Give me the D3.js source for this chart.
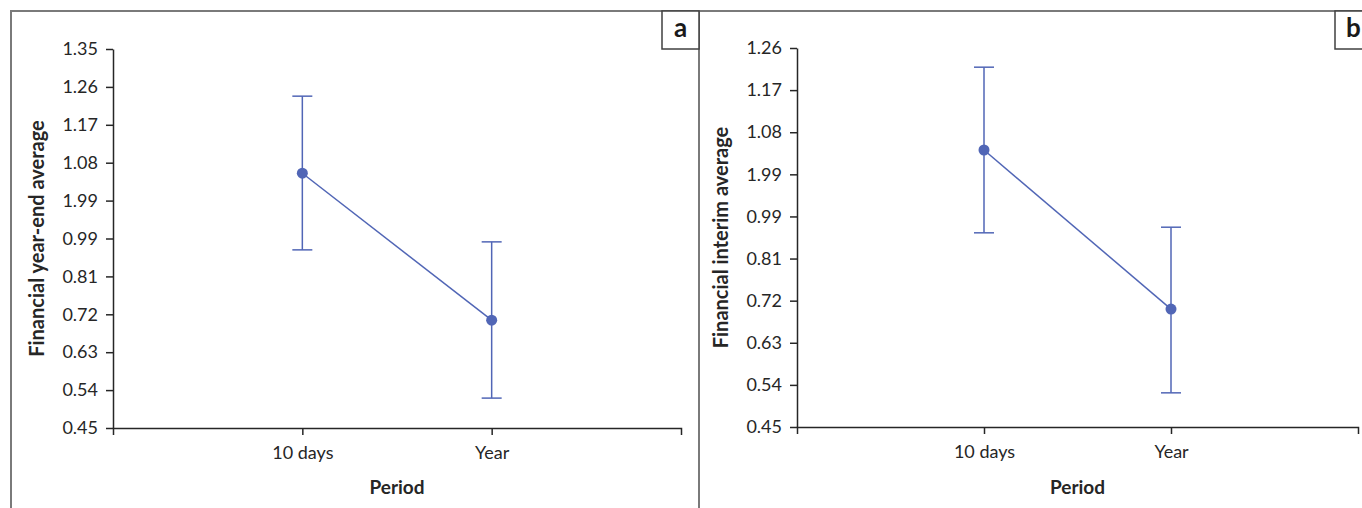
<!DOCTYPE html>
<html>
<head>
<meta charset="utf-8">
<script src="https://cdn.jsdelivr.net/npm/d3@7"></script>
<style>
  html, body { margin: 0; padding: 0; background: #fff; }
  svg { display: block; font-family: Lato, "Open Sans", sans-serif; }
  .tick text { fill: #262626; }
</style>
</head>
<body>
<svg id="chart" width="1362" height="508"></svg>
<script>
const periods = ["10 days", "Year"];

// panel a: financial year-end
const yearEndMean = [1.055, 0.706];
const yearEndLow = [0.873, 0.521];
const yearEndHigh = [1.238, 0.892];
const yearEndTicks = [0.45, 0.54, 0.63, 0.72, 0.81, 0.90, 0.99, 1.08, 1.17, 1.26, 1.35];
const yearEndTickLabels = ["0.45", "0.54", "0.63", "0.72", "0.81", "0.99", "1.99", "1.08", "1.17", "1.26", "1.35"];

// panel b: financial interim
const interimMean = [1.042, 0.702];
const interimLow = [0.865, 0.523];
const interimHigh = [1.219, 0.877];
const interimTicks = [0.45, 0.54, 0.63, 0.72, 0.81, 0.90, 0.99, 1.08, 1.17, 1.26];
const interimTickLabels = ["0.45", "0.54", "0.63", "0.72", "0.81", "0.99", "1.99", "1.08", "1.17", "1.26"];

const BLUE = "#5166b6";
const AXIS = "#262626";
const FRAME = "#7a7a7a";

const svg = d3.select("#chart");

// outer frame
const frame = svg.append("g").attr("fill", "none").attr("stroke", FRAME).attr("stroke-width", 2);
frame.append("path").attr("d", "M11,508V11H1362");
frame.append("path").attr("d", "M699,11V508");

function drawPanel({ left, right, top, bottom, mean, low, high, ticks, tickLabels, title, tag, tagX }) {
  const g = svg.append("g");
  const x = d3.scalePoint().domain(periods).range([left, right]).padding(1);
  const y = d3.scaleLinear().domain([ticks[0], ticks[ticks.length - 1]]).range([bottom, top]);

  const yAxis = d3.axisLeft(y).tickValues(ticks).tickSize(7).tickSizeOuter(0).tickPadding(8)
    .tickFormat((d, i) => tickLabels[i]);
  const ya = g.append("g").attr("transform", `translate(${left},0)`).call(yAxis);
  const xAxis = d3.axisBottom(x).tickSize(7).tickSizeOuter(7).tickPadding(11);
  const xa = g.append("g").attr("transform", `translate(0,${bottom})`).call(xAxis);
  [ya, xa].forEach((a) => {
    a.selectAll("path, line").attr("stroke", AXIS).attr("stroke-width", 1.5);
    a.selectAll("text").attr("font-size", 18).attr("font-family", "Lato, sans-serif");
  });

  const rows = periods.map((p, i) => ({ p, m: mean[i], lo: low[i], hi: high[i] }));

  g.append("path")
    .datum(rows)
    .attr("fill", "none")
    .attr("stroke", BLUE)
    .attr("stroke-width", 1.5)
    .attr("d", d3.line().x((d) => x(d.p)).y((d) => y(d.m)));

  const eb = g.append("g").attr("stroke", BLUE).attr("stroke-width", 1.5);
  eb.selectAll("line.bar").data(rows).join("line").attr("class", "bar")
    .attr("x1", (d) => x(d.p)).attr("x2", (d) => x(d.p))
    .attr("y1", (d) => y(d.lo)).attr("y2", (d) => y(d.hi));
  eb.selectAll("line.capHi").data(rows).join("line").attr("class", "capHi")
    .attr("x1", (d) => x(d.p) - 10).attr("x2", (d) => x(d.p) + 10)
    .attr("y1", (d) => y(d.hi)).attr("y2", (d) => y(d.hi));
  eb.selectAll("line.capLo").data(rows).join("line").attr("class", "capLo")
    .attr("x1", (d) => x(d.p) - 10).attr("x2", (d) => x(d.p) + 10)
    .attr("y1", (d) => y(d.lo)).attr("y2", (d) => y(d.lo));

  g.selectAll("circle").data(rows).join("circle")
    .attr("cx", (d) => x(d.p)).attr("cy", (d) => y(d.m)).attr("r", 5.5)
    .attr("fill", BLUE);

  g.append("text")
    .attr("x", (left + right) / 2).attr("y", 494)
    .attr("text-anchor", "middle").attr("font-weight", 700).attr("font-size", 19)
    .attr("fill", AXIS).text("Period");

  g.append("text")
    .attr("transform", `translate(${left - 69},${(top + bottom) / 2}) rotate(-90)`)
    .attr("text-anchor", "middle").attr("font-weight", 700).attr("font-size", 20)
    .attr("fill", AXIS).text(title);

  // panel tag box
  g.append("rect")
    .attr("x", tagX).attr("y", 11).attr("width", 37).attr("height", 38)
    .attr("fill", "#fff").attr("stroke", "#404040").attr("stroke-width", 1.5);
  g.append("text")
    .attr("x", tagX + 18.5).attr("y", 37)
    .attr("text-anchor", "middle").attr("font-weight", 700).attr("font-size", 26)
    .attr("fill", "#1a1a1a").text(tag);
}

drawPanel({
  left: 113, right: 681, top: 49, bottom: 428,
  mean: yearEndMean, low: yearEndLow, high: yearEndHigh,
  ticks: yearEndTicks, tickLabels: yearEndTickLabels,
  title: "Financial year-end average", tag: "a", tagX: 662,
});

drawPanel({
  left: 797, right: 1358, top: 48, bottom: 427,
  mean: interimMean, low: interimLow, high: interimHigh,
  ticks: interimTicks, tickLabels: interimTickLabels,
  title: "Financial interim average", tag: "b", tagX: 1335,
});
</script>
</body>
</html>
